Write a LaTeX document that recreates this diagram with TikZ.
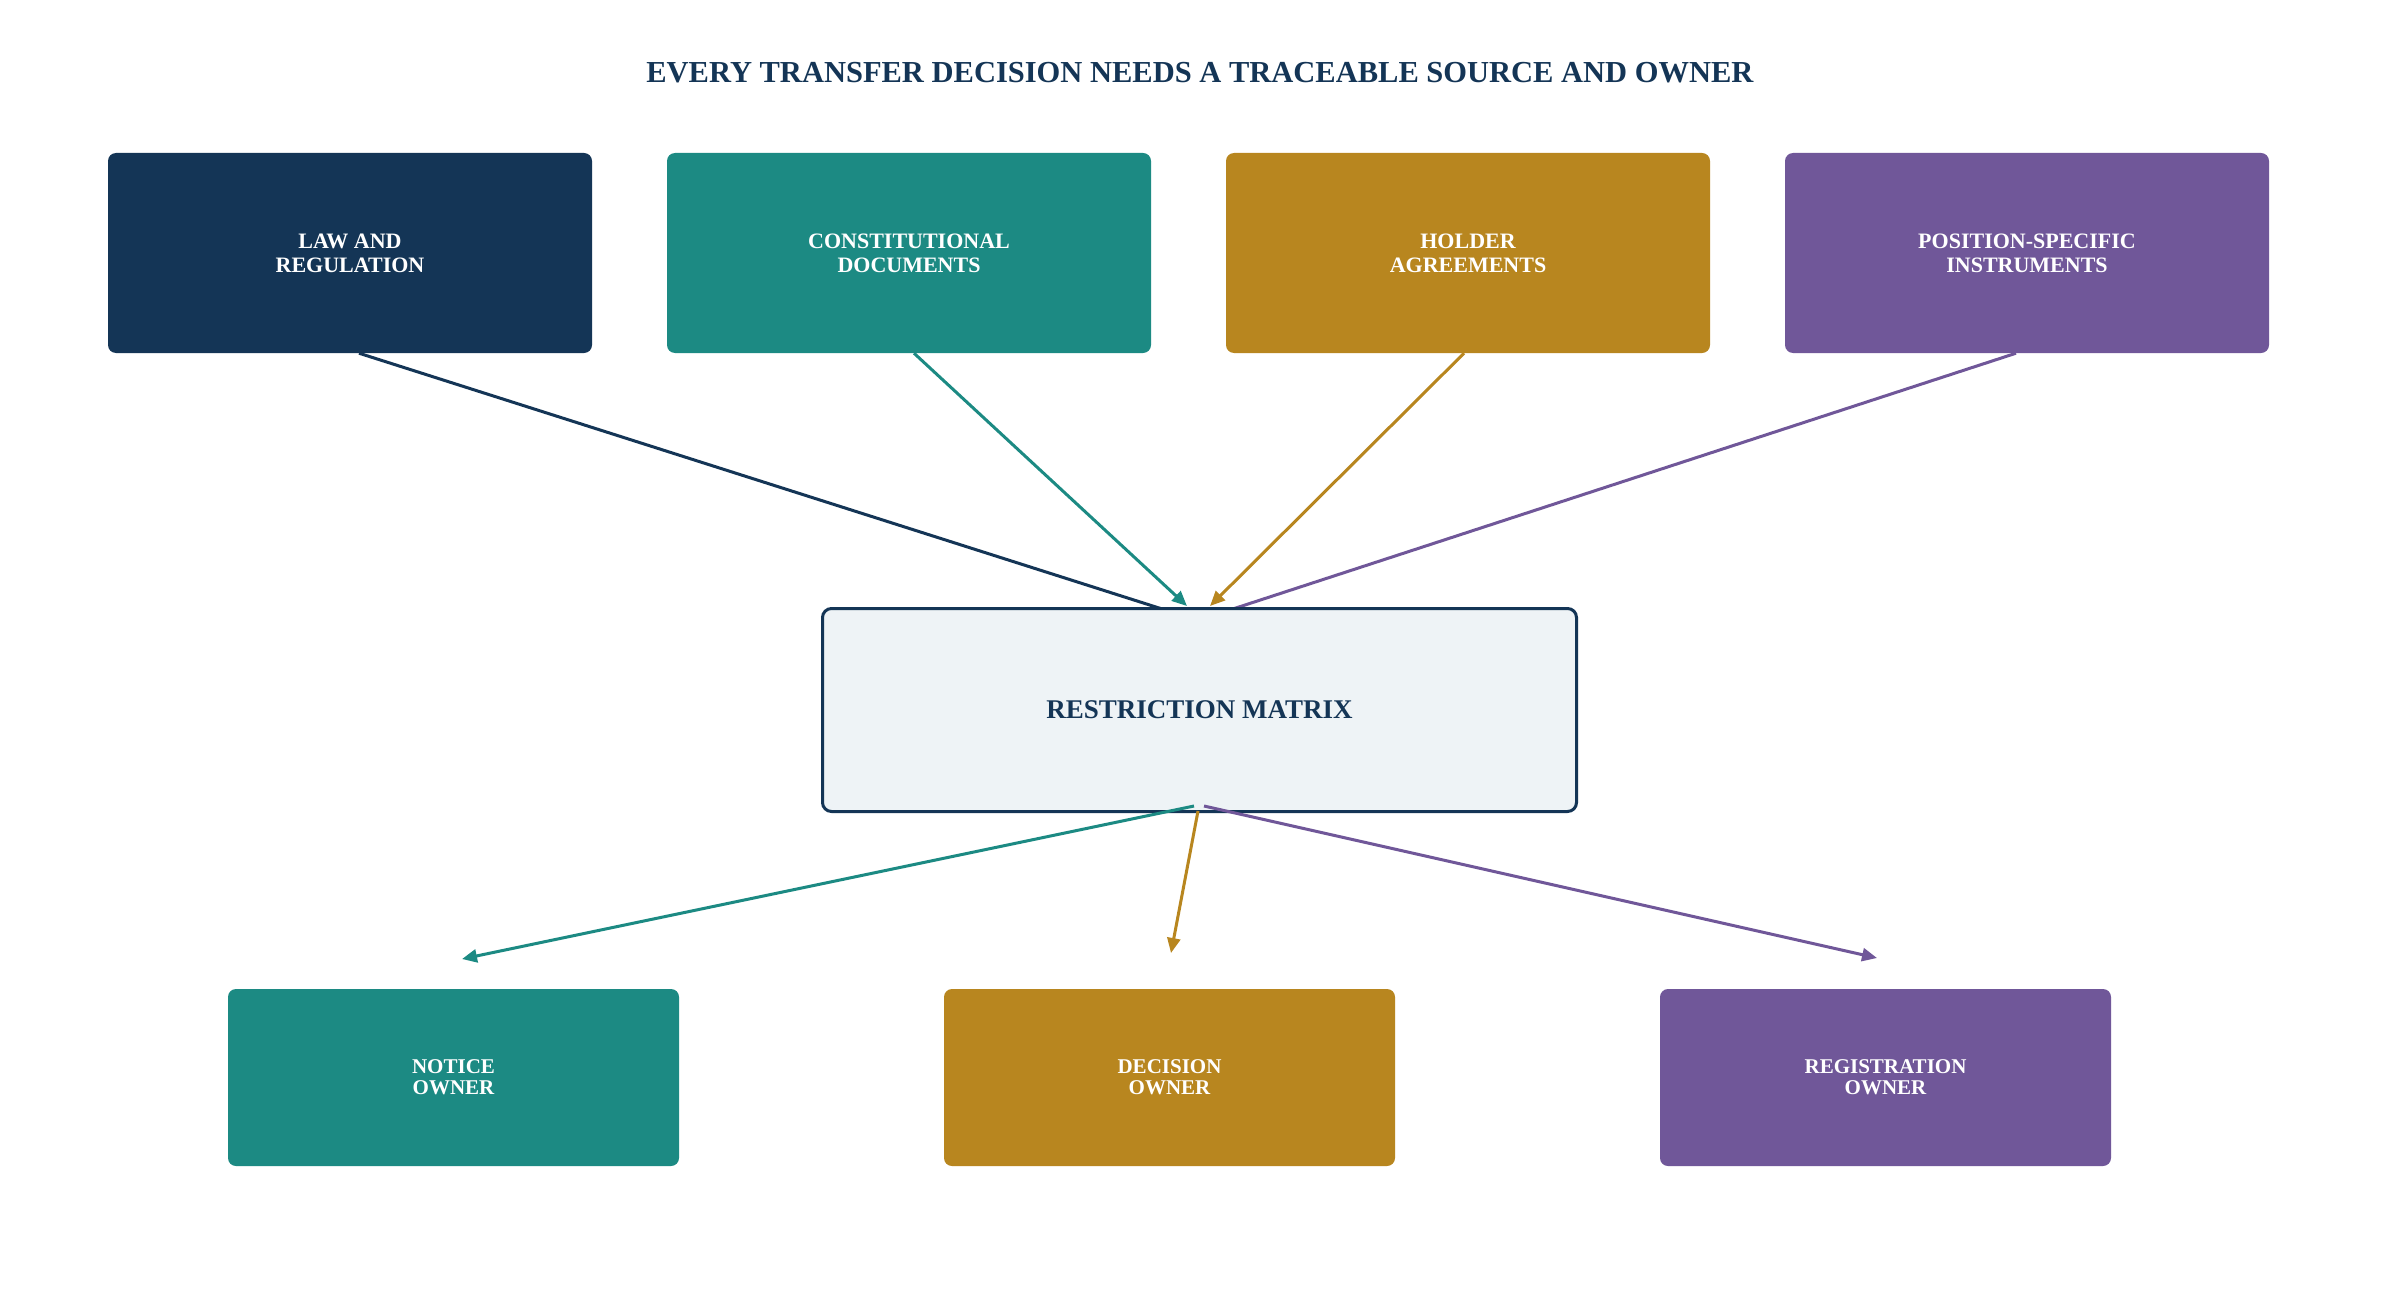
\documentclass[tikz,border=0pt]{standalone}
\usepackage{fontspec}
\setmainfont{Liberation Serif}
\usetikzlibrary{arrows.meta,calc}
\pgfdeclarelayer{bg}
\pgfsetlayers{bg,main}
\definecolor{navy}{HTML}{143556}
\definecolor{teal}{HTML}{1C8A83}
\definecolor{gold}{HTML}{B8861F}
\definecolor{purp}{HTML}{705799}
\definecolor{pale}{HTML}{EEF3F6}
\tikzset{
  srcbox/.style={rectangle, rounded corners=8pt, minimum width=484pt, minimum height=200pt, inner sep=0pt,
    text=white, align=center, font=\fontsize{22}{24}\selectfont\bfseries},
  ownbox/.style={rectangle, rounded corners=8pt, minimum width=451pt, minimum height=177pt, inner sep=0pt,
    text=white, align=center, font=\fontsize{21}{21}\selectfont\bfseries},
  conn/.style={line width=3pt, -{Triangle[length=15pt,width=13pt]}},
}
\begin{document}
\begin{tikzpicture}[x=1pt,y=-1pt]
\useasboundingbox (0,0) rectangle (2397,1297);

\node[font=\fontsize{30.5}{30.5}\selectfont\bfseries, text=navy] (title) at (1200,73) {EVERY TRANSFER DECISION NEEDS A TRACEABLE SOURCE AND OWNER};

\node[srcbox, fill=navy] (law) at (350,253) {LAW AND\\REGULATION};
\node[srcbox, fill=teal] (const) at (909,253) {CONSTITUTIONAL\\DOCUMENTS};
\node[srcbox, fill=gold] (holder) at (1468,253) {HOLDER\\AGREEMENTS};
\node[srcbox, fill=purp] (pos) at (2027,253) {POSITION-SPECIFIC\\INSTRUMENTS};

\node[rectangle, rounded corners=9pt, draw=navy, line width=3pt, fill=pale, minimum width=754pt, minimum height=203pt,
  text=navy, font=\fontsize{27}{27}\selectfont\bfseries] (matrix) at (1199.5,710) {RESTRICTION MATRIX};

\node[ownbox, fill=teal] (notice) at (453.5,1077.5) {NOTICE\\OWNER};
\node[ownbox, fill=gold] (decision) at (1169.5,1077.5) {DECISION\\OWNER};
\node[ownbox, fill=purp] (registration) at (1885.5,1077.5) {REGISTRATION\\OWNER};

\coordinate (t1) at (1203,622);
\coordinate (t2) at (1187,606);
\coordinate (t3) at (1210,606);
\coordinate (t4) at (1193,622);
\begin{pgfonlayer}{bg}
\fill[white] (0,0) rectangle (2397,1297);
\draw[conn, navy] ($(law.south)+(9,0)$) -- (t1);
\draw[conn, teal] ($(const.south)+(5,0)$) -- (t2);
\draw[conn, gold] ($(holder.south)+(-4,0)$) -- (t3);
\draw[conn, purp] ($(pos.south)+(-11,0)$) -- (t4);
\end{pgfonlayer}

\coordinate (b1) at (1194,806);
\coordinate (b2) at (1198,811);
\coordinate (b3) at (1204,806);
\coordinate (c1) at (462,959);
\coordinate (c2) at (1171,953);
\coordinate (c3) at (1877,958);
\draw[conn, teal] (b1) -- (c1);
\draw[conn, gold] (b2) -- (c2);
\draw[conn, purp] (b3) -- (c3);
\end{tikzpicture}
\end{document}
